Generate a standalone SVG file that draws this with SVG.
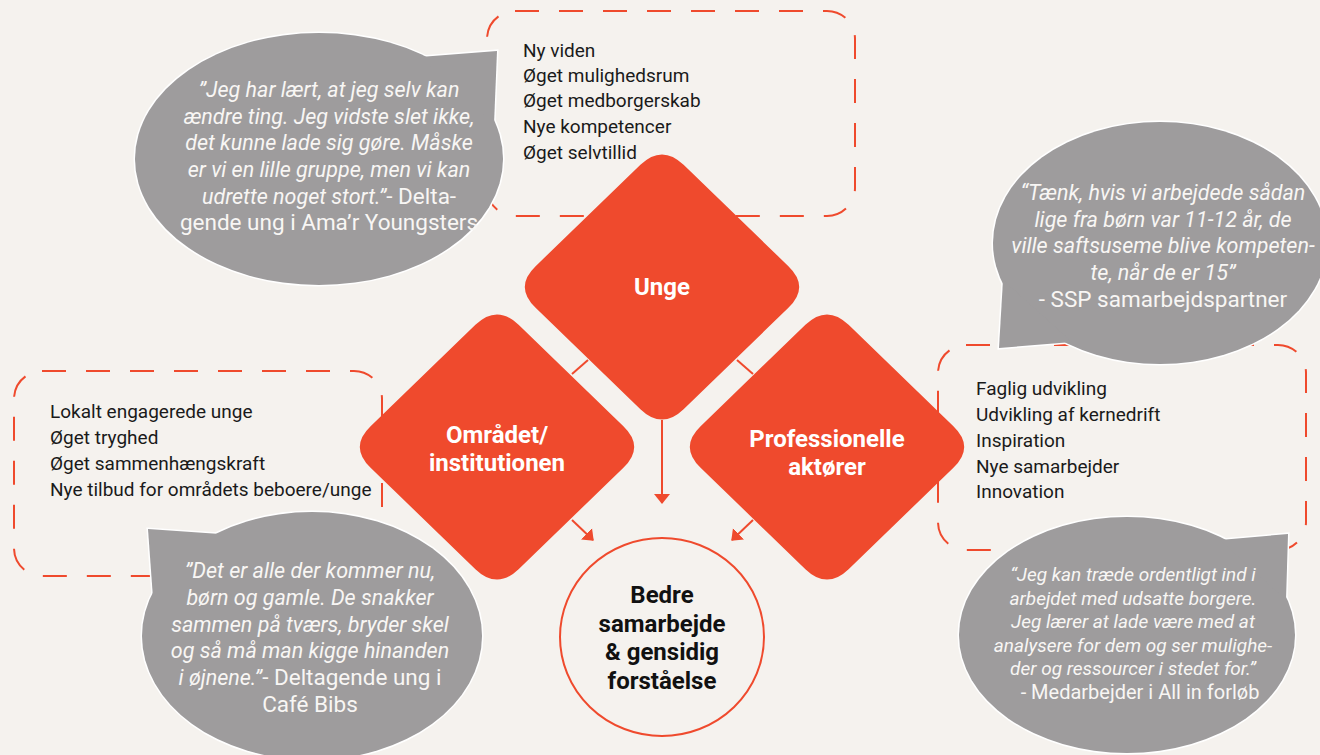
<svg xmlns="http://www.w3.org/2000/svg" width="1320" height="755" viewBox="0 0 1320 755">
<style>
.bg{fill:#f5f2ee}
.box{fill:none;stroke:#ef4a2d;stroke-width:2;stroke-dasharray:24 20}
.bo{fill:#ffffff;stroke:#ffffff;stroke-width:3}
.bf{fill:#9e9c9d}
.list{font-family:Roboto,"Liberation Sans",sans-serif;font-size:19px;fill:#1a1a1a}
.q{font-family:Roboto,"Liberation Sans",sans-serif;font-size:21.5px;fill:#f8f6f4;text-anchor:middle;font-style:italic}
.qs{font-family:Roboto,"Liberation Sans",sans-serif;font-size:19px;fill:#f8f6f4;text-anchor:middle;font-style:italic}
.n{font-style:normal;font-size:22.5px}
.qs .n,.qs.n{font-size:20px}
.dia{fill:#ef4a2d}
.dt{font-family:Roboto,"Liberation Sans",sans-serif;font-size:24px;font-weight:700;fill:#ffffff;text-anchor:middle}
.ct{font-family:Roboto,"Liberation Sans",sans-serif;font-size:24px;font-weight:700;fill:#111111;text-anchor:middle}
.con{stroke:#ef4a2d;stroke-width:2;fill:none}
</style>
<defs>
<path id="diamond" d="M-21.6,-122.2 Q0,-143 21.6,-122.2 L126.4,-20.8 Q148,0 126.4,20.8 L21.6,122.2 Q0,143 -21.6,122.2 L-126.4,20.8 Q-148,0 -126.4,-20.8 Z"/>
<marker id="ah" viewBox="0 0 10 16" refX="9" refY="8" markerWidth="10" markerHeight="16" markerUnits="userSpaceOnUse" orient="auto">
<path d="M0,0 L10,8 L0,16 Z" fill="#ef4a2d"/>
</marker>
</defs>
<rect class="bg" x="0" y="0" width="1320" height="755"/>

<g id="box-unge">
<rect class="box" x="487" y="11" width="368" height="205" rx="28"/>
<text class="list" x="523" y="57">Ny viden</text>
<text class="list" x="523" y="82">Øget mulighedsrum</text>
<text class="list" x="523" y="107">Øget medborgerskab</text>
<text class="list" x="523" y="133">Nye kompetencer</text>
<text class="list" x="523" y="159">Øget selvtillid</text>
</g>

<g id="box-omraadet">
<rect class="box" x="14" y="371" width="368" height="205" rx="28"/>
<text class="list" x="50" y="418">Lokalt engagerede unge</text>
<text class="list" x="50" y="444">Øget tryghed</text>
<text class="list" x="50" y="470">Øget sammenhængskraft</text>
<text class="list" x="50" y="496">Nye tilbud for områdets beboere/unge</text>
</g>

<g id="box-professionelle">
<rect class="box" x="938" y="345" width="368" height="205" rx="28"/>
<text class="list" x="976" y="395">Faglig udvikling</text>
<text class="list" x="976" y="421">Udvikling af kernedrift</text>
<text class="list" x="976" y="447">Inspiration</text>
<text class="list" x="976" y="473">Nye samarbejder</text>
<text class="list" x="976" y="498">Innovation</text>
</g>

<g id="quote-unge">
<ellipse class="bo" cx="319" cy="159" rx="184" ry="126"/>
<polygon class="bo" points="420,57 497,51 494,124"/>
<ellipse class="bf" cx="319" cy="159" rx="184" ry="126"/>
<polygon class="bf" points="420,57 497,51 494,124"/>
<text class="q" x="329" y="97">”Jeg har lært, at jeg selv kan</text>
<text class="q" x="329" y="124">ændre ting. Jeg vidste slet ikke,</text>
<text class="q" x="329" y="150">det kunne lade sig gøre. Måske</text>
<text class="q" x="329" y="177">er vi en lille gruppe, men vi kan</text>
<text class="q" x="329" y="204">udrette noget stort.”<tspan class="n">- Delta-</tspan></text>
<text class="q n" x="329" y="230">gende ung i Ama’r Youngsters</text>
</g>

<g id="quote-ssp">
<ellipse class="bo" cx="1160" cy="243" rx="167" ry="121"/>
<polygon class="bo" points="1003,280 999,348 1072,342"/>
<ellipse class="bf" cx="1160" cy="243" rx="167" ry="121"/>
<polygon class="bf" points="1003,280 999,348 1072,342"/>
<text class="q" x="1163" y="200">“Tænk, hvis vi arbejdede sådan</text>
<text class="q" x="1163" y="227">lige fra børn var 11-12 år, de</text>
<text class="q" x="1163" y="253">ville saftsuseme blive kompeten-</text>
<text class="q" x="1163" y="280">te, når de er 15”</text>
<text class="q n" x="1163" y="307">- SSP samarbejdspartner</text>
</g>

<g id="quote-cafe">
<ellipse class="bo" cx="312" cy="636" rx="170" ry="124"/>
<polygon class="bo" points="220,534 148,529 153,598"/>
<ellipse class="bf" cx="312" cy="636" rx="170" ry="124"/>
<polygon class="bf" points="220,534 148,529 153,598"/>
<text class="q" x="310" y="578">”Det er alle der kommer nu,</text>
<text class="q" x="310" y="605">børn og gamle. De snakker</text>
<text class="q" x="310" y="632">sammen på tværs, bryder skel</text>
<text class="q" x="310" y="658">og så må man kigge hinanden</text>
<text class="q" x="310" y="685">i øjnene.”<tspan class="n">- Deltagende ung i</tspan></text>
<text class="q n" x="310" y="712">Café Bibs</text>
</g>

<g id="quote-allin">
<ellipse class="bo" cx="1127" cy="635" rx="168" ry="118"/>
<polygon class="bo" points="1220,540 1288,534 1286,600"/>
<ellipse class="bf" cx="1127" cy="635" rx="168" ry="118"/>
<polygon class="bf" points="1220,540 1288,534 1286,600"/>
<text class="qs" x="1133" y="581">“Jeg kan træde ordentligt ind i</text>
<text class="qs" x="1133" y="605">arbejdet med udsatte borgere.</text>
<text class="qs" x="1133" y="628">Jeg lærer at lade være med at</text>
<text class="qs" x="1133" y="652">analysere for dem og ser mulighe-</text>
<text class="qs" x="1133" y="675">der og ressourcer i stedet for.”</text>
<text class="qs n" x="1140" y="699">- Medarbejder i All in forløb</text>
</g>

<g id="connectors">
<line class="con" x1="572" y1="374" x2="588" y2="360"/>
<line class="con" x1="737" y1="360" x2="753" y2="374"/>
<line class="con" x1="662" y1="420" x2="662" y2="503" marker-end="url(#ah)"/>
<line class="con" x1="572" y1="520" x2="593" y2="540" marker-end="url(#ah)"/>
<line class="con" x1="753" y1="520" x2="732" y2="540" marker-end="url(#ah)"/>
</g>

<g id="node-unge">
<use href="#diamond" class="dia" transform="translate(662,287)"/>
<text class="dt" x="662" y="295">Unge</text>
</g>

<g id="node-omraadet">
<use href="#diamond" class="dia" transform="translate(497,447)"/>
<text class="dt" x="497" y="442.5">Området/</text>
<text class="dt" x="497" y="471">institutionen</text>
</g>

<g id="node-professionelle">
<use href="#diamond" class="dia" transform="translate(827,447)"/>
<text class="dt" x="827" y="446.5">Professionelle</text>
<text class="dt" x="827" y="475">aktører</text>
</g>

<g id="node-bedre">
<ellipse cx="662" cy="637" rx="102" ry="99" fill="#f5f2ee" stroke="#ef4a2d" stroke-width="2"/>
<text class="ct" x="662" y="603">Bedre</text>
<text class="ct" x="662" y="631.5">samarbejde</text>
<text class="ct" x="662" y="660">&amp; gensidig</text>
<text class="ct" x="662" y="688.5">forståelse</text>
</g>
</svg>
